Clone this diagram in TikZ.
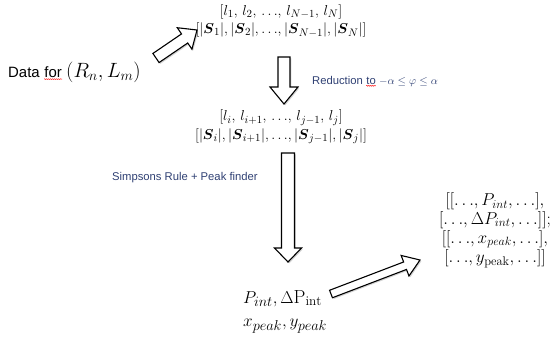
\documentclass[tikz,border=0pt]{standalone}
\usepackage{amsmath}
\usepackage{fontspec}
\newfontfamily\arialf{Liberation Sans}
\usetikzlibrary{calc,shadows,decorations.pathmorphing}
\definecolor{labelblue}{RGB}{47,64,115}
\newcommand{\eld}{{\ldots}}
\tikzset{
  sans/.style={font=\arialf\fontsize{15}{18}\selectfont, inner sep=0pt},
  bluesans/.style={font=\arialf\fontsize{11.3}{13}\selectfont, text=labelblue, inner sep=0pt},
  mathtxt/.style={font=\fontsize{15}{18.5}\selectfont, inner sep=0pt, align=center},
  bigmath/.style={font=\fontsize{19}{21}\selectfont, inner sep=0pt},
  blk/.style={draw=black, line width=1.1bp, fill=white, line join=miter,
    drop shadow={shadow xshift=1.3bp, shadow yshift=-1.3bp, opacity=0.35, fill=gray}},
  squig/.style={red, line width=0.4bp, decorate, decoration={snake, amplitude=0.5bp, segment length=2bp}}
}
% #1 tail, #2 tip, #3 shaft half width, #4 head half width, #5 head length
\newcommand{\blockarr}[5]{%
  \coordinate (#2-hb) at ($(#2)!#5!(#1)$);
  \draw[blk] ($(#1)!#3!90:(#2)$) -- ($(#2-hb)!#3!90:(#2)$) -- ($(#2-hb)!#4!90:(#2)$)
    -- (#2) -- ($(#2-hb)!#4!-90:(#2)$) -- ($(#2-hb)!#3!-90:(#2)$) -- ($(#1)!#3!-90:(#2)$) -- cycle;
}
\begin{document}
\begin{tikzpicture}[x=1bp,y=-1bp]
\useasboundingbox (0,0) rectangle (552,338);

% left input
\node[sans, anchor=base west] (data) at (8,77) {Data};
\node[sans, anchor=base west] (for) at ($(data.base east)+(4.2,0)$) {for};
\draw[squig] ([yshift=-1.8bp]for.south west) -- ([yshift=-1.8bp]for.south east);
\node[inner sep=0pt, font=\fontsize{20}{22}\selectfont, anchor=base west] (rl) at ($(for.base east)+(4,0)$) {$(R_n, L_m)$};

% top list
\node[mathtxt] (top) at (281,21) {$[l_1,\, l_2,\, \eld,\, l_{N-1},\, l_N]$\\
  $[|\boldsymbol{S}_1|, |\boldsymbol{S}_2|, \eld, |\boldsymbol{S}_{N-1}|, |\boldsymbol{S}_N|]$};

% reduced list
\node[mathtxt] (mid) at (281,127) {$[l_i,\, l_{i+1},\, \eld,\, l_{j-1},\, l_j]$\\
  $[|\boldsymbol{S}_i|, |\boldsymbol{S}_{i+1}|, \eld, |\boldsymbol{S}_{j-1}|, |\boldsymbol{S}_j|]$};

% labels
\node[bluesans, anchor=base west] (red1) at (312,84) {Reduction};
\node[bluesans, anchor=base west] (red2) at ($(red1.base east)+(3.1,0)$) {to};
\draw[squig] ([yshift=-1.5bp]red2.south west) -- ([yshift=-1.5bp]red2.south east);
\node[bluesans, anchor=base west, font=\fontsize{10.5}{12}\selectfont] (red3) at ($(red2.base east)+(3,0)$) {$-\alpha \le \varphi \le \alpha$};
\node[bluesans, anchor=base west] (simp) at (112,180) {Simpsons Rule + Peak finder};

% results
\node[bigmath, anchor=base west] (res1) at (243,303) {$P_{int}, \Delta\mathrm{P}_{\mathrm{int}}$};
\node[bigmath, anchor=base west] (res2) at (243,326) {$x_{peak}, y_{peak}$};

% right column
\node[bigmath, align=center, font=\fontsize{18}{20}\selectfont] (out) at (495,230) {$[[\eld, P_{int}, \eld],$\\[-1pt]
  $[\eld, \Delta P_{int}, \eld]];$\\[-1pt]
  $[[\eld, x_{peak}, \eld],$\\[-1pt]
  $[\eld, y_{\mathrm{peak}}, \eld]]$};

% block arrows
\coordinate (a1s) at (156,58);
\coordinate (a1e) at (197,30);
\blockarr{a1s}{a1e}{5.5bp}{13bp}{15bp}
\coordinate (a2s) at (284,57);
\coordinate (a2e) at (284,104);
\blockarr{a2s}{a2e}{6bp}{14bp}{17bp}
\coordinate (a3s) at (288,153);
\coordinate (a3e) at (288,262);
\blockarr{a3s}{a3e}{6.5bp}{13.5bp}{14bp}
\coordinate (a4s) at (331,294);
\coordinate (a4e) at (420,260);
\blockarr{a4s}{a4e}{4bp}{11bp}{16bp}
\end{tikzpicture}
\end{document}
